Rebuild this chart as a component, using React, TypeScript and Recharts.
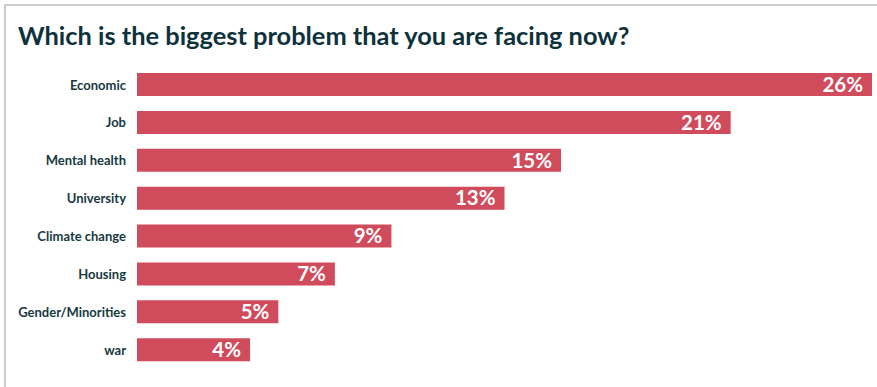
import { Bar, BarChart, LabelList, XAxis, YAxis } from "recharts";

// Share of respondents naming each issue as their biggest problem (%)
const problems = [
  "Economic",
  "Job",
  "Mental health",
  "University",
  "Climate change",
  "Housing",
  "Gender/Minorities",
  "war",
];
const shares = [26, 21, 15, 13, 9, 7, 5, 4];

const chartData = problems.map((name, i) => ({ name, share: shares[i] }));

const BAR_COLOR = "#d04b5c";
const TEXT_COLOR = "#163a3f";

export default function App() {
  return (
    <div
      style={{
        position: "absolute",
        left: 0,
        top: 0,
        width: 877,
        height: 387,
        background: "#fff",
        overflow: "hidden",
        fontFamily: "Lato, 'Noto Sans', sans-serif",
      }}
    >
      <div
        style={{
          position: "absolute",
          left: 4,
          top: 4,
          right: -10,
          bottom: -10,
          borderTop: "2px solid #cdcdcd",
          borderLeft: "2px solid #cdcdcd",
        }}
      />
      <div
        style={{
          position: "absolute",
          left: 18,
          top: 20,
          fontSize: 25.4,
          fontWeight: 700,
          color: "#0e323b",
          whiteSpace: "nowrap",
        }}
      >
        Which is the biggest problem that you are facing now?
      </div>
      <div style={{ position: "absolute", left: 0, top: 0 }}>
        <BarChart
          width={877}
          height={387}
          data={chartData}
          layout="vertical"
          margin={{ top: 66, right: 5, bottom: 18, left: 0 }}
          barSize={23}
        >
          <XAxis type="number" hide domain={[0, 26]} />
          <YAxis
            type="category"
            dataKey="name"
            width={137}
            axisLine={false}
            tickLine={false}
            tickSize={0}
            tickMargin={11}
            interval={0}
            tick={{
              fill: TEXT_COLOR,
              fontSize: 13,
              fontWeight: 700,
              fontFamily: "Lato, sans-serif",
            }}
          />
          <Bar dataKey="share" fill={BAR_COLOR} isAnimationActive={false}>
            <LabelList
              dataKey="share"
              position="insideRight"
              offset={9}
              formatter={(v: number) => `${v}%`}
              fill="#fff"
              style={{
                fontSize: 20.5,
                fontWeight: 700,
                fontFamily: "Lato, sans-serif",
              }}
            />
          </Bar>
        </BarChart>
      </div>
    </div>
  );
}
